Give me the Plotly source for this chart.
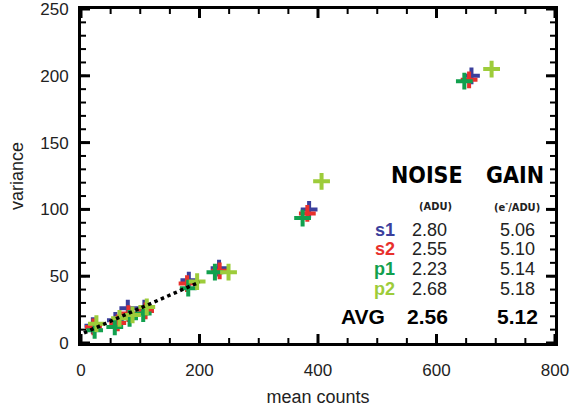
import numpy as np
import plotly.graph_objects as go

# Photon-transfer measurements: mean counts vs. variance for each amplifier
s1_mean = [20, 58, 79, 107, 182, 233, 385, 659]
s1_var = [13, 17, 26, 26, 47, 56, 100, 200]
s2_mean = [21, 62, 80, 109, 179, 234, 382, 655]
s2_var = [12, 15, 22, 24, 44.5, 54, 97, 197]
p1_mean = [23, 57, 82, 105, 181, 226, 374, 647]
p1_var = [9.5, 12, 18.5, 22, 41, 53, 93.5, 196]
p2_mean = [26, 65, 87, 111, 196, 249, 406, 693]
p2_var = [14.5, 18.5, 21, 27, 46, 53, 121, 205]

names = ["s1", "s2", "p1", "p2"]
colors = ["#3b3f9c", "#e8302c", "#12a04e", "#9dcc3a"]
noise = ["2.80", "2.55", "2.23", "2.68"]
gain = ["5.06", "5.10", "5.14", "5.18"]
avg_noise = 2.56
avg_gain = 5.12

x_range = [0, 800]
y_range = [0, 250]
x_major, x_minor = 200, 50
y_major, y_minor = 50, 10

W, H = 570, 407
M = dict(l=81, r=15, t=9, b=64)
plot_w = W - M["l"] - M["r"]
plot_h = H - M["t"] - M["b"]

# extent of the linear fit (var = noise^2 + mean/gain)
fit_mean = [5, 200]
fit_var = [avg_noise ** 2 + m / avg_gain for m in fit_mean]

means = [s1_mean, s2_mean, p1_mean, p2_mean]
vars_ = [s1_var, s2_var, p1_var, p2_var]

fig = go.Figure()


# Inward tick marks on all four sides, drawn as short line segments
def tick_trace(step, length_px, width, on_x):
    if on_x:
        vals = np.arange(x_range[0], x_range[1] + step / 2, step)
        d = length_px * (y_range[1] - y_range[0]) / plot_h
        xs, ys = [], []
        for v in vals:
            xs += [v, v, None, v, v, None]
            ys += [y_range[0], y_range[0] + d, None, y_range[1], y_range[1] - d, None]
    else:
        vals = np.arange(y_range[0], y_range[1] + step / 2, step)
        d = length_px * (x_range[1] - x_range[0]) / plot_w
        xs, ys = [], []
        for v in vals:
            xs += [x_range[0], x_range[0] + d, None, x_range[1], x_range[1] - d, None]
            ys += [v, v, None, v, v, None]
    return go.Scatter(x=xs, y=ys, mode="lines", hoverinfo="skip",
                      line=dict(color="black", width=width))


fig.add_trace(tick_trace(x_minor, 5, 2, True))
fig.add_trace(tick_trace(x_major, 9, 3, True))
fig.add_trace(tick_trace(y_minor, 5, 2, False))
fig.add_trace(tick_trace(y_major, 9, 3, False))

for n, c, xs, ys in zip(names, colors, means, vars_):
    fig.add_trace(go.Scatter(
        x=xs, y=ys, mode="markers", name=n,
        marker=dict(symbol="cross-thin", size=12, color=c,
                    line=dict(color=c, width=4)),
    ))

fig.add_trace(go.Scatter(
    x=fit_mean, y=fit_var, mode="lines",
    line=dict(color="black", width=3.5, dash="dot"),
))

sans = "Liberation Sans, Arial, sans-serif"
tickfont = dict(family=sans, size=17, color="#222")
titlefont = dict(family=sans, size=18, color="#222")

fig.update_layout(
    xaxis=dict(
        range=x_range, tick0=0, dtick=x_major, ticks="",
        showline=True, linecolor="black", linewidth=3, mirror=True,
        showgrid=False, zeroline=False, automargin=False,
        ticklabeloverflow="allow", ticklabelstandoff=10,
        tickfont=tickfont, title=dict(text="mean counts", font=titlefont, standoff=12),
    ),
    yaxis=dict(
        range=y_range, tick0=0, dtick=y_major, ticks="",
        showline=True, linecolor="black", linewidth=3, mirror=True,
        showgrid=False, zeroline=False, automargin=False,
        ticklabeloverflow="allow", ticklabelstandoff=6,
        tickfont=tickfont, title=dict(text="variance", font=titlefont, standoff=12),
    ),
)

cond = "DejaVu Sans Condensed, Liberation Sans Narrow, sans-serif"
head_font = dict(family=cond, size=23, color="black", weight="bold")
unit_font = dict(family=cond, size=11, color="#222", weight="bold")
val_font = dict(family=sans, size=18, color="#222")
avg_font = dict(family=sans, size=21, color="black", weight="bold")

ann = []
ann.append(dict(x=584, y=125.7, text="NOISE", font=head_font, xanchor="center"))
ann.append(dict(x=732, y=125.7, text="GAIN", font=head_font, xanchor="center"))
ann.append(dict(x=599, y=102.5, text="(ADU)", font=unit_font, xanchor="center"))
ann.append(dict(x=736, y=102.5, text="(e<sup>-</sup>/ADU)", font=unit_font, xanchor="center"))

row_y = [84.5, 70, 55.5, 40.5]
for n, c, nv, gv, ry in zip(names, colors, noise, gain, row_y):
    ann.append(dict(x=533, y=ry, text=n, xanchor="right",
                    font=dict(family=sans, size=18, color=c, weight="bold")))
    ann.append(dict(x=589, y=ry, text=nv, xanchor="center", font=val_font))
    ann.append(dict(x=737.5, y=ry, text=gv, xanchor="center", font=val_font))

ann.append(dict(x=517, y=19.5, text="AVG", xanchor="right", font=avg_font))
ann.append(dict(x=585.5, y=19.5, text=f"{avg_noise:.2f}", xanchor="center", font=avg_font))
ann.append(dict(x=737.5, y=19.5, text=f"{avg_gain:.2f}", xanchor="center", font=avg_font))

for a in ann:
    a.update(xref="x", yref="y", showarrow=False, yanchor="middle")

fig.update_layout(
    width=W, height=H,
    margin=M,
    paper_bgcolor="white", plot_bgcolor="white",
    showlegend=False,
    annotations=ann,
)

fig.write_html("out.html")
